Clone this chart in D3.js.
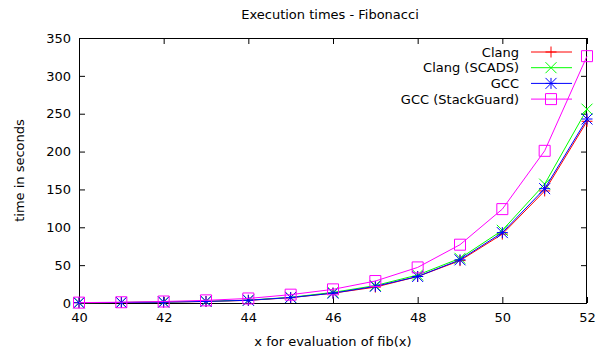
<!doctype html>
<html>
<head>
<script src="https://d3js.org/d3.v7.min.js"></script>
<style>
body { margin: 0; background: #fff; }
svg text { font-family: "DejaVu Sans", sans-serif; font-size: 13px; fill: #000; }
</style>
</head>
<body>
<svg id="chart" width="602" height="351"></svg>
<script>
// fib(x) argument
var xs = [40, 41, 42, 43, 44, 45, 46, 47, 48, 49, 50, 51, 52];

// seconds
var clang      = [0.4, 0.7, 1.2, 2, 3.5, 7, 13, 21, 35, 56, 91, 148, 240];
var clangScads = [0.4, 0.7, 1.3, 2.2, 3.8, 7.5, 14, 23, 37, 59, 96, 157, 256];
var gcc        = [0.4, 0.7, 1.2, 2.1, 3.6, 7.2, 13, 22, 35, 57, 93, 151, 243];
var gccSg      = [0.5, 1, 2, 3.5, 6, 11, 18, 29, 47, 77, 124, 201, 326];

var series = [
	{name: "Clang", values: clang, color: "#ff0000", mark: "plus"},
	{name: "Clang (SCADS)", values: clangScads, color: "#00ff00", mark: "cross"},
	{name: "GCC", values: gcc, color: "#0000ff", mark: "star"},
	{name: "GCC (StackGuard)", values: gccSg, color: "#ff00ff", mark: "box"}
];

var xTicks = [40, 42, 44, 46, 48, 50, 52];
var yTicks = [0, 50, 100, 150, 200, 250, 300, 350];

var L = 79, R = 587, T = 38, B = 303;
var svg = d3.select("#chart");

var x = d3.scaleLinear().domain([40, 52]).range([L, R]);
var y = d3.scaleLinear().domain([0, 350]).range([B, T]);

// marker path centred on 0,0
function markPath(type) {
	var s = 5.5;
	var p = d3.path();
	if (type == "plus" || type == "star") {
		p.moveTo(-s, 0); p.lineTo(s, 0);
		p.moveTo(0, -s); p.lineTo(0, s);
	}
	if (type == "cross" || type == "star") {
		p.moveTo(-s, -s); p.lineTo(s, s);
		p.moveTo(-s, s); p.lineTo(s, -s);
	}
	if (type == "box") {
		p.rect(-s, -s, 2*s, 2*s);
	}
	return p.toString();
}

// axes, ticks inward and mirrored
var tl = 6;
svg.append("g").attr("transform", "translate(0," + B + ")")
	.call(d3.axisBottom(x).tickValues(xTicks).tickSizeInner(-tl).tickSizeOuter(0).tickPadding(10))
	.call(g => g.select(".domain").remove());
svg.append("g").attr("transform", "translate(0," + T + ")")
	.call(d3.axisTop(x).tickValues(xTicks).tickSizeInner(-tl).tickSizeOuter(0).tickFormat(""))
	.call(g => g.select(".domain").remove());
svg.append("g").attr("transform", "translate(" + L + ",0)")
	.call(d3.axisLeft(y).tickValues(yTicks).tickSizeInner(-tl).tickSizeOuter(0).tickPadding(8))
	.call(g => g.select(".domain").remove());
svg.append("g").attr("transform", "translate(" + R + ",0)")
	.call(d3.axisRight(y).tickValues(yTicks).tickSizeInner(-tl).tickSizeOuter(0).tickFormat(""))
	.call(g => g.select(".domain").remove());
svg.selectAll(".tick text").attr("font-family", null).attr("font-size", null);
svg.selectAll(".tick line").attr("stroke", "#000");

svg.append("rect")
	.attr("x", L + 0.5).attr("y", T + 0.5)
	.attr("width", R - L - 1).attr("height", B - T)
	.attr("fill", "none").attr("stroke", "#000");

// lines + points
var line = d3.line().x((d, i) => x(xs[i])).y(d => y(d));
series.forEach(function(s) {
	var g = svg.append("g");
	g.append("path").attr("d", line(s.values))
		.attr("fill", "none").attr("stroke", s.color).attr("stroke-width", 1);
	g.selectAll("path.pt").data(s.values).enter().append("path")
		.attr("class", "pt")
		.attr("transform", (d, i) => "translate(" + x(xs[i]) + "," + y(d) + ")")
		.attr("d", markPath(s.mark))
		.attr("fill", "none").attr("stroke", s.color).attr("stroke-width", 1);
});

// legend
var leg = svg.append("g");
series.forEach(function(s, i) {
	var ly = 52 + i * 15.7;
	leg.append("text").attr("x", 519).attr("y", ly).attr("dy", "0.35em")
		.attr("text-anchor", "end").text(s.name);
	leg.append("line").attr("x1", 531).attr("x2", 572).attr("y1", ly).attr("y2", ly)
		.attr("stroke", s.color);
	leg.append("path").attr("transform", "translate(551," + ly + ")")
		.attr("d", markPath(s.mark)).attr("fill", "none").attr("stroke", s.color);
});

svg.append("text").attr("x", 330).attr("y", 19).attr("text-anchor", "middle")
	.text("Execution times - Fibonacci");
svg.append("text").attr("x", 333).attr("y", 346).attr("text-anchor", "middle")
	.text("x for evaluation of fib(x)");
svg.append("text").attr("transform", "translate(24," + ((T + B) / 2) + ") rotate(-90)")
	.attr("text-anchor", "middle").text("time in seconds");
</script>
</body>
</html>
